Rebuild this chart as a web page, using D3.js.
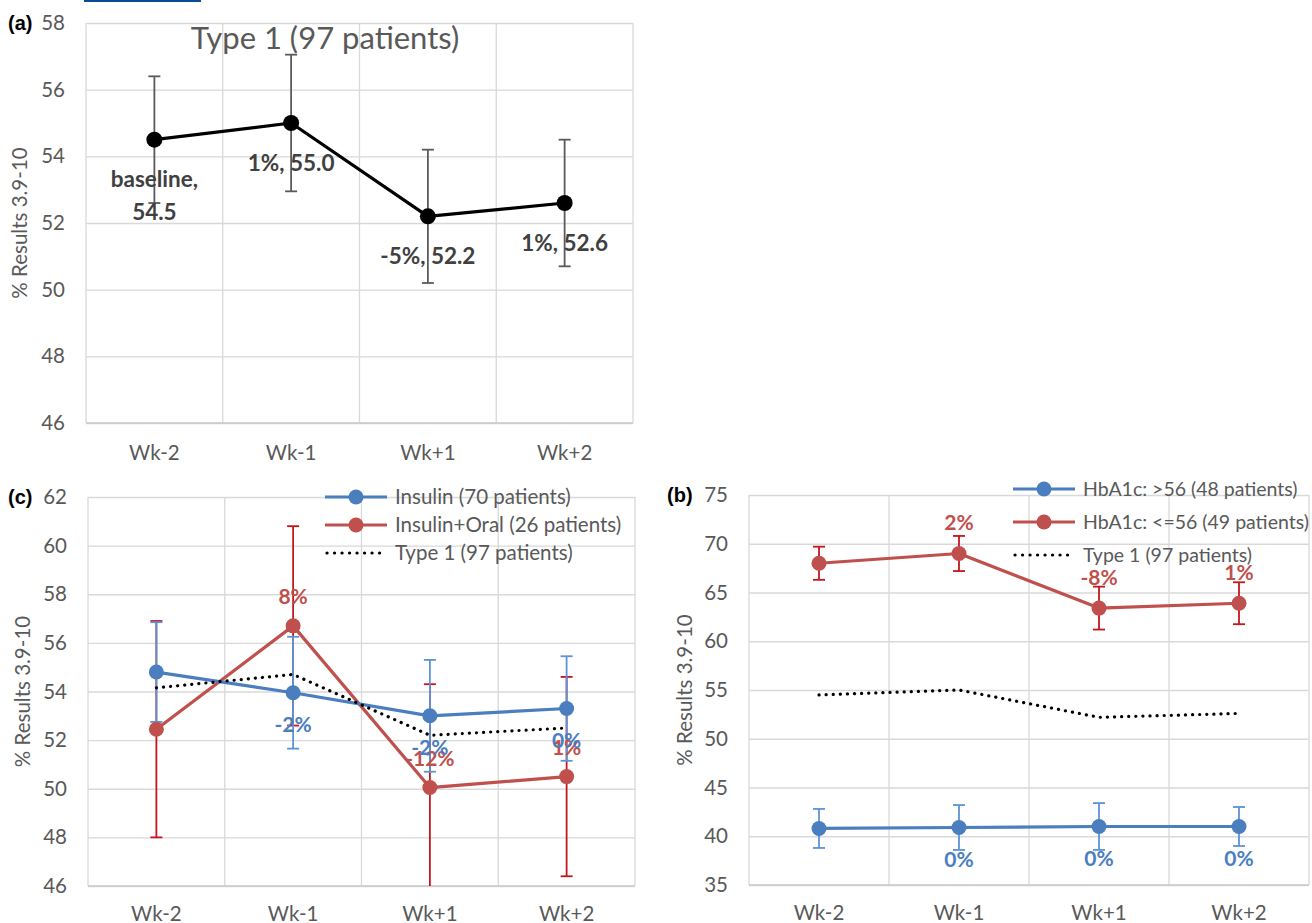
<!DOCTYPE html>
<html>
<head>
<meta charset="utf-8">
<script src="https://cdn.jsdelivr.net/npm/d3@7"></script>
<style>
  body { margin: 0; background: #fff; }
  text { font-family: Lato, "Open Sans", sans-serif; }
</style>
</head>
<body>
<script>
// categories
var weeks = ["Wk-2", "Wk-1", "Wk+1", "Wk+2"];

// panel (a) - all type 1
var type1All = [54.5, 55.0, 52.2, 52.6];
var type1AllErr = [1.9, 2.05, 2.0, 1.9];
var type1AllLabels = [["baseline,", "54.5"], ["1%, 55.0"], ["-5%, 52.2"], ["1%, 52.6"]];
var ticksA = [46, 48, 50, 52, 54, 56, 58];

// panel (c) - by treatment
var insulin = [54.8, 53.95, 53.0, 53.3];
var insulinErr = [2.05, 2.3, 2.3, 2.15];
var insulinLabels = [null, "-2%", "-2%", "0%"];
var insulinOral = [52.45, 56.7, 50.05, 50.5];
var insulinOralErr = [4.45, 4.1, 4.25, 4.1];
var insulinOralLabels = [null, "8%", "-12%", "1%"];
var type1C = [54.15, 54.7, 52.2, 52.5];
var ticksC = [46, 48, 50, 52, 54, 56, 58, 60, 62];

// panel (b) - by HbA1c
var hbHigh = [40.8, 40.9, 41.0, 41.0];
var hbHighErr = [2.0, 2.3, 2.4, 2.0];
var hbHighLabels = [null, "0%", "0%", "0%"];
var hbLow = [68.0, 69.0, 63.4, 63.9];
var hbLowErr = [1.7, 1.8, 2.2, 2.15];
var hbLowLabels = [null, "2%", "-8%", "1%"];
var type1B = [54.5, 55.0, 52.2, 52.6];
var ticksB = [35, 40, 45, 50, 55, 60, 65, 70, 75];

var BLUE = "#4a7ebf", RED = "#c0504d", BLUE_ERR = "#5b94d6", RED_ERR = "#c4161c";
var GRID = "#d9d9d9", TXT = "#595959";

var svg = d3.select("body").append("svg")
    .attr("width", 1312)
    .attr("height", 923);

svg.append("rect").attr("width", 1312).attr("height", 923).attr("fill", "#fff");
// link underline at the very top
svg.append("rect").attr("x", 84).attr("y", 0).attr("width", 117).attr("height", 2).attr("fill", "#0b4a96");

function drawPanel(p) {
  var x = d3.scaleBand().domain(weeks).range([p.left, p.right]);
  var y = d3.scaleLinear().domain(d3.extent(p.ticks)).range([p.bottom, p.top]);
  var g = svg.append("g");

  // horizontal gridlines
  g.append("g")
      .attr("transform", "translate(" + p.left + ",0)")
      .call(d3.axisLeft(y).tickValues(p.ticks).tickSize(-(p.right - p.left)).tickFormat(""))
      .call(function(s) { s.select(".domain").remove(); })
      .selectAll("line").attr("stroke", GRID).attr("stroke-width", 1.3);

  // vertical gridlines at category boundaries
  var bounds = weeks.map(function(w) { return x(w); }).concat([p.right]);
  g.selectAll(".vgrid").data(bounds).enter().append("line")
      .attr("x1", function(d) { return d; }).attr("x2", function(d) { return d; })
      .attr("y1", p.top).attr("y2", p.bottom)
      .attr("stroke", GRID).attr("stroke-width", 1.3);

  g.append("line")
      .attr("x1", p.left).attr("x2", p.right)
      .attr("y1", p.bottom).attr("y2", p.bottom)
      .attr("stroke", "#c8c8c8").attr("stroke-width", 1.5);

  // y tick labels
  var ya = g.append("g")
      .attr("transform", "translate(" + p.left + ",0)")
      .call(d3.axisLeft(y).tickValues(p.ticks).tickSize(0).tickPadding(21));
  ya.select(".domain").remove();
  ya.selectAll("text").attr("font-size", 20.5).attr("fill", TXT).style("font-family", "Lato, sans-serif");

  // x tick labels
  var xa = g.append("g")
      .attr("transform", "translate(0," + p.bottom + ")")
      .call(d3.axisBottom(x).tickSize(0).tickPadding(p.xPad));
  xa.select(".domain").remove();
  xa.selectAll("text").attr("font-size", 20.5).attr("fill", TXT).style("font-family", "Lato, sans-serif");

  // panel letter
  g.append("text")
      .attr("x", p.letterX).attr("y", p.top + 7)
      .attr("font-size", 20).attr("font-weight", "bold")
      .style("font-family", "Liberation Sans, Arial, sans-serif")
      .text(p.letter);

  // y axis title
  g.append("text")
      .attr("transform", "translate(" + p.yTitleX + "," + ((p.top + p.bottom) / 2) + ") rotate(-90)")
      .attr("text-anchor", "middle")
      .attr("dominant-baseline", "middle")
      .attr("font-size", 20.5).attr("fill", TXT)
      .text("% Results 3.9-10");

  var clipId = "clip" + p.letter.replace(/[()]/g, "");
  svg.append("clipPath").attr("id", clipId).append("rect")
      .attr("x", p.left).attr("y", p.top).attr("width", p.right - p.left).attr("height", p.bottom - p.top);

  var cx = function(i) { return x(weeks[i]) + x.bandwidth() / 2; };

  // error bars
  var eb = g.append("g").attr("clip-path", "url(#" + clipId + ")");
  p.series.forEach(function(s) {
    if (!s.err) return;
    s.values.forEach(function(v, i) {
      var hi = y(v + s.err[i]), lo = y(v - s.err[i]);
      eb.append("line").attr("x1", cx(i)).attr("x2", cx(i)).attr("y1", hi).attr("y2", lo)
          .attr("stroke", s.errColor).attr("stroke-width", 1.8);
      [hi, lo].forEach(function(yy) {
        eb.append("line").attr("x1", cx(i) - s.cap).attr("x2", cx(i) + s.cap).attr("y1", yy).attr("y2", yy)
            .attr("stroke", s.errColor).attr("stroke-width", 1.8);
      });
    });
  });

  // lines
  var line = d3.line().x(function(d, i) { return cx(i); }).y(function(d) { return y(d); });
  p.series.forEach(function(s) {
    var path = g.append("path").datum(s.values)
        .attr("fill", "none")
        .attr("stroke", s.color)
        .attr("d", line);
    if (s.dotted) {
      path.attr("stroke-width", 3.2).attr("stroke-linecap", "round").attr("stroke-dasharray", "0.1 7");
    } else {
      path.attr("stroke-width", 3.2).attr("stroke-linejoin", "round");
    }
  });

  // markers
  p.series.forEach(function(s) {
    if (s.dotted) return;
    g.selectAll(null).data(s.values).enter().append("circle")
        .attr("cx", function(d, i) { return cx(i); })
        .attr("cy", function(d) { return y(d); })
        .attr("r", s.r)
        .attr("fill", s.color);
  });

  // data labels
  p.series.forEach(function(s) {
    if (!s.labels) return;
    s.values.forEach(function(v, i) {
      var lab = s.labels[i];
      if (!lab) return;
      var lines = Array.isArray(lab) ? lab : [lab];
      var y0 = y(v) + s.labelDy;
      var t = g.append("text")
          .attr("text-anchor", "middle")
          .attr("font-size", s.labelSize).attr("font-weight", "bold")
          .attr("fill", s.labelColor);
      lines.forEach(function(l, k) {
        t.append("tspan").attr("x", cx(i)).attr("y", y0 + k * 33 + 7.5).text(l);
      });
    });
  });

  // legend
  if (p.legend) {
    p.legend.forEach(function(l, k) {
      var ly = p.legendY + k * p.legendGap;
      var lg = g.append("g");
      var ln = lg.append("line").attr("x1", p.legendX).attr("x2", p.legendX + 62)
          .attr("y1", ly).attr("y2", ly).attr("stroke", l.color).attr("stroke-width", 3.2);
      if (l.dotted) {
        ln.attr("stroke-linecap", "round").attr("stroke-dasharray", "0.1 7.4").attr("x1", p.legendX + 2);
      } else {
        lg.append("circle").attr("cx", p.legendX + 31).attr("cy", ly).attr("r", 7.5).attr("fill", l.color);
      }
      lg.append("text").attr("x", p.legendX + 70).attr("y", ly + 7)
          .attr("font-size", p.legendSize).attr("fill", TXT).text(l.name);
    });
  }
  return g;
}

// panel (a)
var gA = drawPanel({
  letter: "(a)", letterX: 8, yTitleX: 22,
  left: 86, right: 633, top: 23, bottom: 423, xPad: 22,
  ticks: ticksA,
  series: [
    { values: type1All, err: type1AllErr, color: "#000", errColor: "#5a5a5a", cap: 6, r: 8,
      labels: type1AllLabels, labelColor: "#404040", labelDy: 40, labelSize: 22.5 }
  ]
});
gA.append("text")
    .attr("x", 325).attr("y", 49)
    .attr("text-anchor", "middle")
    .attr("font-size", 31).attr("fill", TXT)
    .text("Type 1 (97 patients)");

// panel (c)
drawPanel({
  letter: "(c)", letterX: 8, yTitleX: 25,
  left: 88, right: 635, top: 497, bottom: 886, xPad: 20,
  ticks: ticksC,
  series: [
    { values: insulinOral, err: insulinOralErr, color: RED, errColor: RED_ERR, cap: 6, r: 7.5,
      labels: insulinOralLabels, labelColor: RED, labelDy: -29, labelSize: 21 },
    { values: insulin, err: insulinErr, color: BLUE, errColor: BLUE_ERR, cap: 6, r: 7.5,
      labels: insulinLabels, labelColor: BLUE, labelDy: 32, labelSize: 21 },
    { values: type1C, color: "#000", dotted: true }
  ],
  legendX: 325, legendY: 497, legendGap: 28, legendSize: 20.5,
  legend: [
    { name: "Insulin (70 patients)", color: BLUE },
    { name: "Insulin+Oral (26 patients)", color: RED },
    { name: "Type 1 (97 patients)", color: "#000", dotted: true }
  ]
});

// panel (b)
drawPanel({
  letter: "(b)", letterX: 667, yTitleX: 687,
  left: 749, right: 1309, top: 495, bottom: 885, xPad: 20,
  ticks: ticksB,
  series: [
    { values: hbLow, err: hbLowErr, color: RED, errColor: RED_ERR, cap: 6, r: 7.5,
      labels: hbLowLabels, labelColor: RED, labelDy: -31, labelSize: 21 },
    { values: hbHigh, err: hbHighErr, color: BLUE, errColor: BLUE_ERR, cap: 6, r: 7.5,
      labels: hbHighLabels, labelColor: BLUE, labelDy: 32, labelSize: 21 },
    { values: type1B, color: "#000", dotted: true }
  ],
  legendX: 1013, legendY: 489, legendGap: 33, legendSize: 19.5,
  legend: [
    { name: "HbA1c: >56 (48 patients)", color: BLUE },
    { name: "HbA1c: <=56 (49 patients)", color: RED },
    { name: "Type 1 (97 patients)", color: "#000", dotted: true }
  ]
});
</script>
</body>
</html>
